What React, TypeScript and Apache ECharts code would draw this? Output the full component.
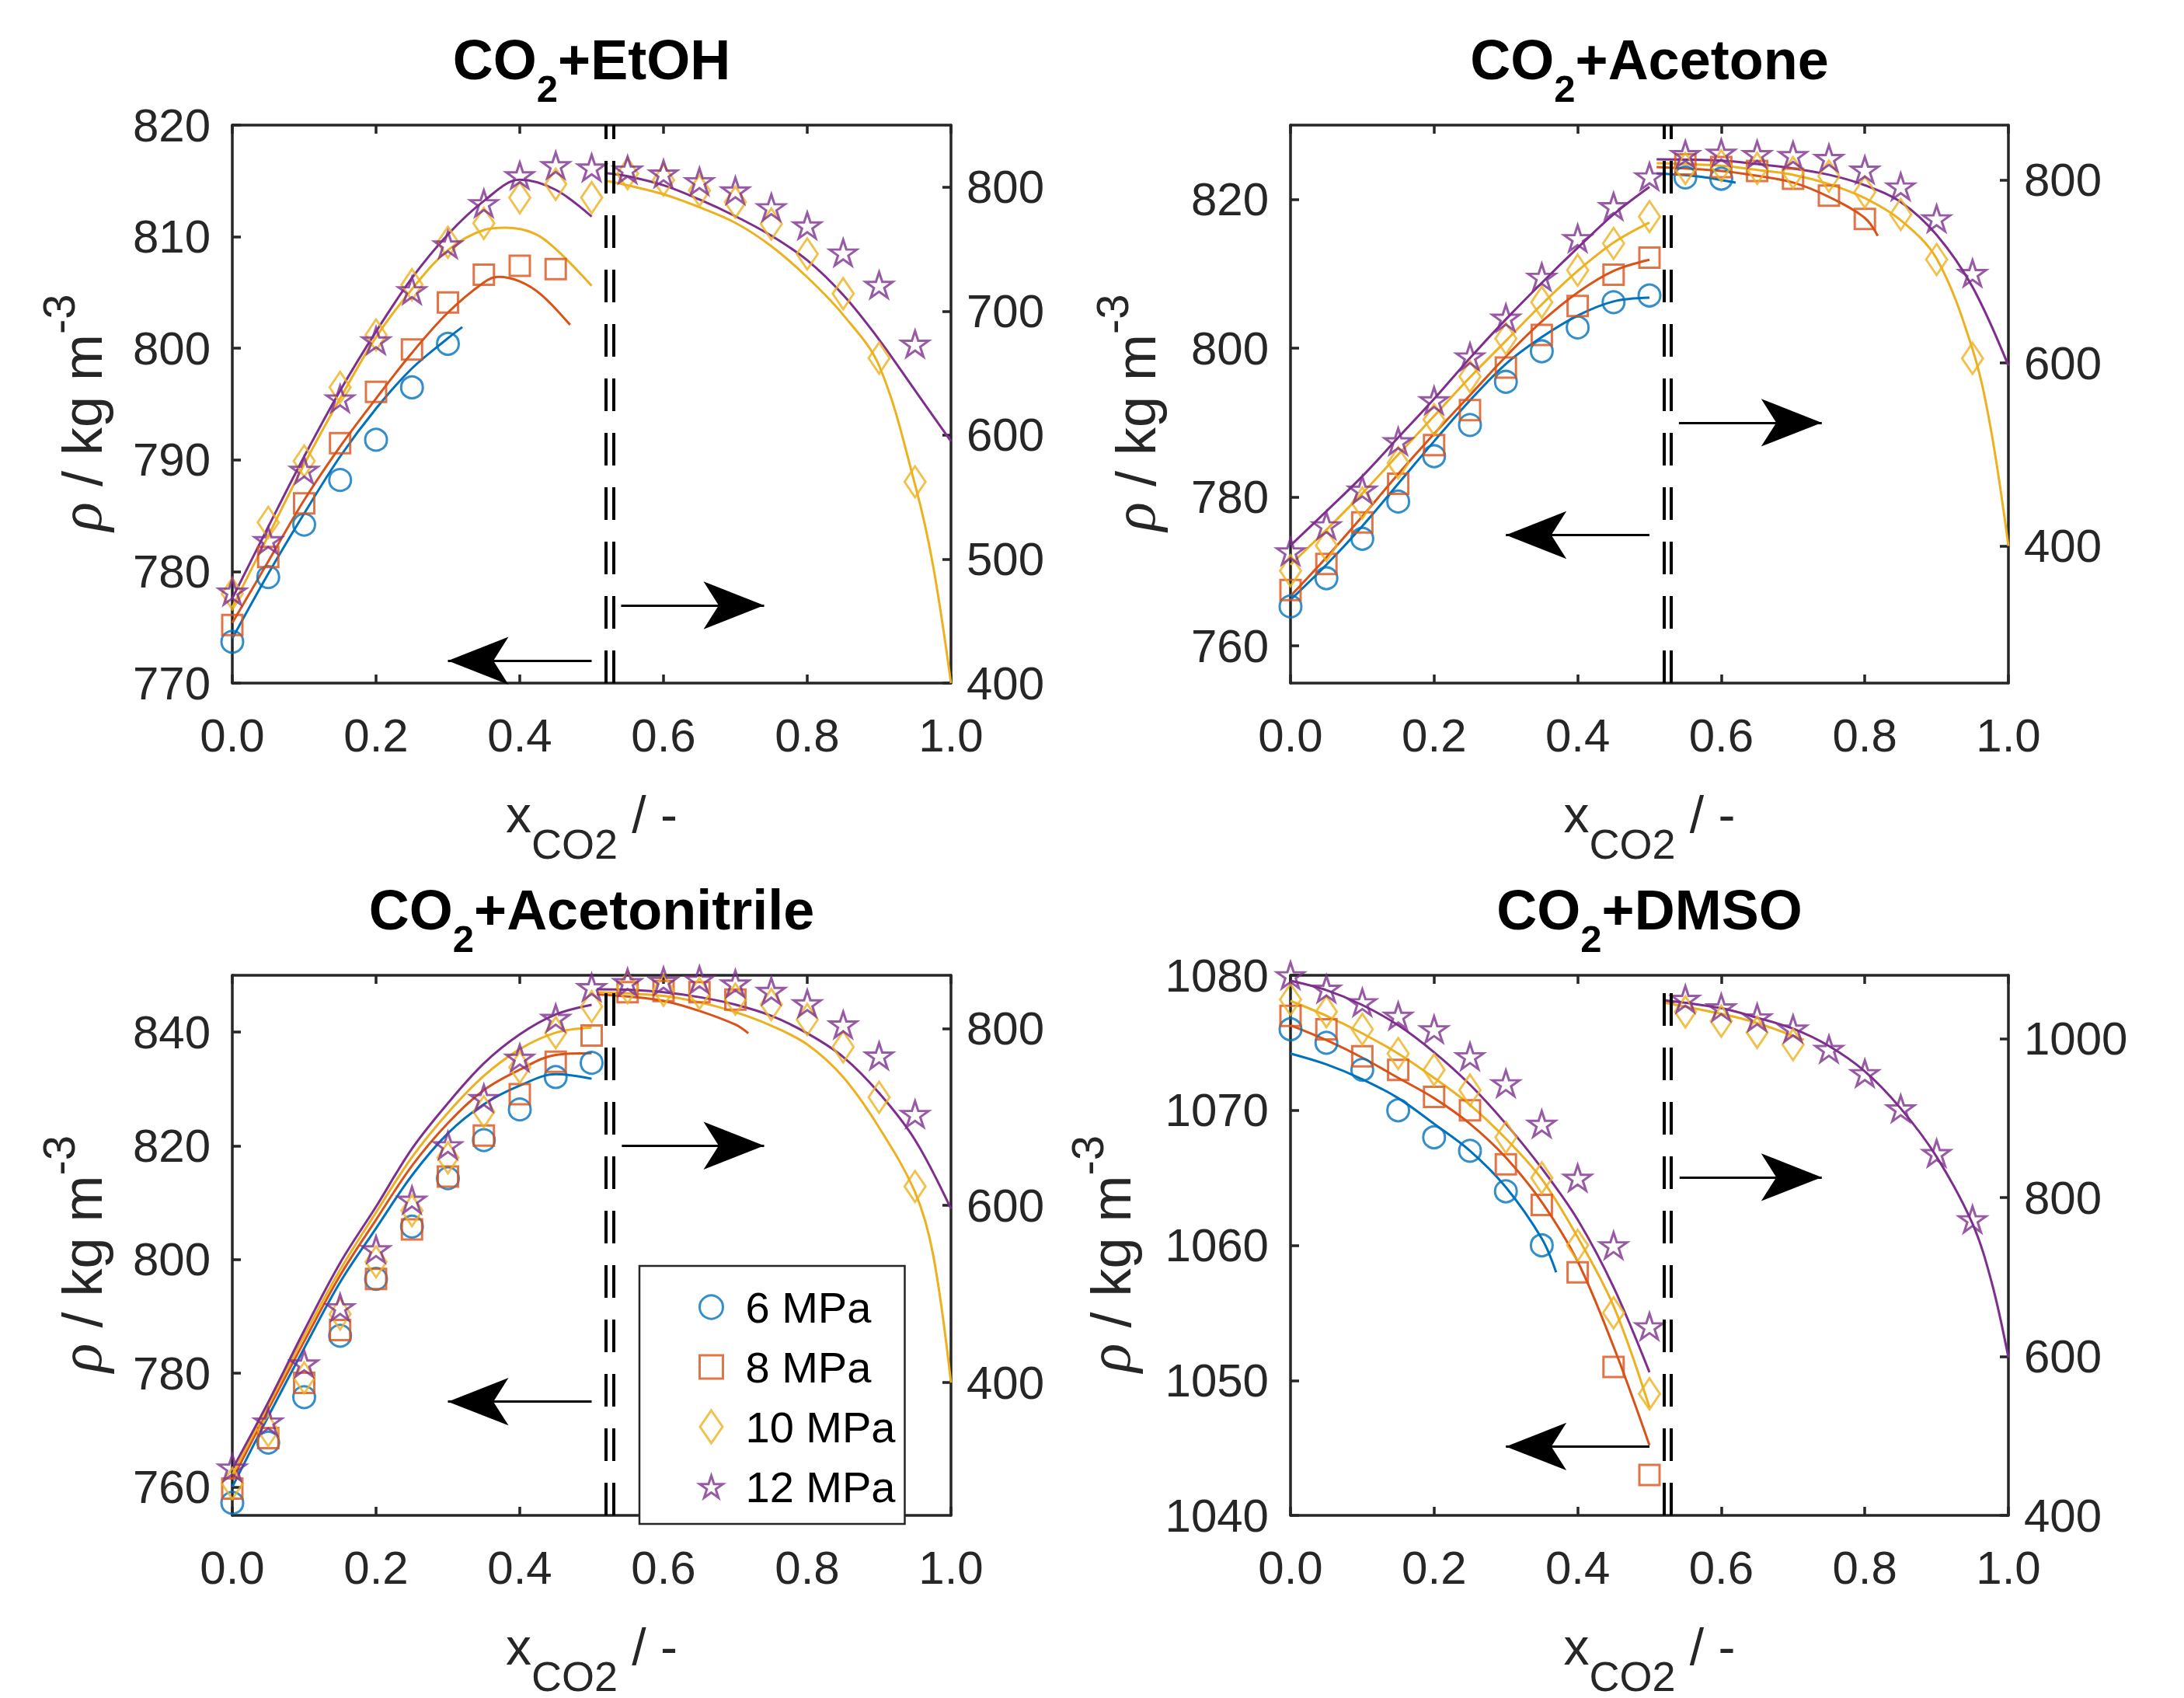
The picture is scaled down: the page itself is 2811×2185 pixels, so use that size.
import React, { useEffect, useRef } from "react";
import * as echarts from "echarts";

// ---------------- shared categories ----------------
const PRESSURES = ["6 MPa", "8 MPa", "10 MPa", "12 MPa"];
const COLORS = ["#0072BD", "#D95319", "#EDB120", "#7E2F8E"];
const X_LEFT = [0, 0.05, 0.1, 0.15, 0.2, 0.25, 0.3, 0.35, 0.4, 0.45, 0.5];
const X_RIGHT = [0.55, 0.6, 0.65, 0.7, 0.75, 0.8, 0.85, 0.9, 0.95];
const DIVIDERS = [0.52, 0.53];

// ---------------- CO2 + EtOH ----------------
const ETOH_6 = [773.7, 779.5, 784.2, 788.2, 791.8, 796.5, 800.4];
const ETOH_8 = [775.2, 781.3, 786.1, 791.5, 796.1, 799.9, 804.1, 806.6, 807.4, 807.1];
const ETOH_10 = [778.0, 784.4, 789.9, 796.5, 801.2, 805.7, 809.5, 811.2, 813.5, 814.7, 813.5];
const ETOH_12 = [778.2, 782.8, 789.1, 795.5, 800.7, 805.2, 809.3, 813.0, 815.5, 816.4, 816.2];
const ETOH_10_R = [810.9, 805.7, 797.3, 787.9, 770.2, 746.1, 714.1, 662.1, 562.3];
const ETOH_12_R = [814.1, 810.9, 804.7, 797.3, 783.7, 769.1, 747.2, 721.1, 673.6];
const ETOH_FIT_6 = [[0, 774.0], [0.05, 779.8], [0.1, 785.2], [0.15, 790.3], [0.2, 794.6], [0.25, 798.2], [0.3, 800.9], [0.32, 801.9]];
const ETOH_FIT_8 = [[0, 775.4], [0.05, 780.9], [0.1, 786.4], [0.15, 791.2], [0.2, 795.5], [0.25, 799.6], [0.3, 803.2], [0.35, 805.9], [0.37, 806.4], [0.4, 806.0], [0.43, 804.8], [0.47, 802.1]];
const ETOH_FIT_10 = [[0, 776.8], [0.05, 783.2], [0.1, 789.6], [0.15, 795.5], [0.2, 801.0], [0.25, 805.3], [0.3, 808.8], [0.35, 810.6], [0.38, 810.8], [0.42, 810.3], [0.45, 808.9], [0.5, 805.6]];
const ETOH_FIT_12 = [[0, 777.6], [0.05, 784.0], [0.1, 790.3], [0.15, 796.2], [0.2, 801.5], [0.25, 806.3], [0.3, 810.2], [0.35, 813.2], [0.4, 815.1], [0.45, 814.2], [0.5, 811.8]];
const ETOH_FIT_10_R = [[0.52, 805.0], [0.55, 801.5], [0.6, 794.2], [0.65, 783.8], [0.7, 771.2], [0.75, 752.4], [0.8, 727.3], [0.85, 697.0], [0.9, 656.0], [0.95, 560.0], [0.975, 495.0], [1.0, 400.0]];
const ETOH_FIT_12_R = [[0.52, 811.3], [0.55, 808.8], [0.6, 801.5], [0.65, 790.0], [0.7, 776.5], [0.75, 760.8], [0.8, 741.0], [0.85, 713.0], [0.9, 677.0], [0.95, 636.0], [1.0, 595.0]];
const ETOH_ARROW_L = [[0.5, 772.0], [0.3, 772.0]];
const ETOH_ARROW_R = [[0.541, 462.7], [0.74, 462.7]];
const ETOH_TICKS_L = [770, 780, 790, 800, 810, 820];
const ETOH_TICKS_R = [400, 500, 600, 700, 800];

// ---------------- CO2 + Acetone ----------------
const ACET_6 = [765.3, 769.1, 774.4, 779.4, 785.5, 789.7, 795.5, 799.6, 802.8, 806.2, 807.1];
const ACET_8 = [767.5, 771.0, 776.6, 781.8, 787.0, 791.7, 797.4, 801.8, 805.7, 809.9, 812.2];
const ACET_10 = [770.1, 773.5, 779.2, 784.6, 790.4, 796.2, 801.3, 806.2, 810.5, 814.1, 817.7];
const ACET_12 = [772.7, 776.2, 781.0, 787.5, 793.0, 798.9, 804.1, 809.6, 814.8, 819.1, 823.1];
const ACET_6_R = [802.8, 801.4];
const ACET_8_R = [817.0, 814.1, 809.9, 801.4, 783.0, 757.5];
const ACET_10_R = [812.7, 815.6, 812.7, 808.0, 804.2, 786.7, 762.3, 713.0, 605.0];
const ACET_12_R = [828.3, 829.7, 828.3, 827.1, 824.0, 811.3, 792.9, 758.0, 698.3];
const ACET_FIT_6 = [[0, 766.2], [0.05, 770.9], [0.1, 776.1], [0.15, 781.8], [0.2, 787.5], [0.25, 793.0], [0.3, 797.9], [0.35, 801.5], [0.4, 804.4], [0.45, 806.3], [0.5, 806.8]];
const ACET_FIT_8 = [[0, 766.7], [0.05, 771.9], [0.1, 777.4], [0.15, 783.1], [0.2, 788.5], [0.25, 793.7], [0.3, 798.9], [0.35, 803.6], [0.4, 807.5], [0.45, 810.4], [0.5, 811.9]];
const ACET_FIT_10 = [[0, 770.9], [0.05, 775.6], [0.1, 780.5], [0.15, 785.7], [0.2, 790.9], [0.25, 796.1], [0.3, 801.0], [0.35, 805.9], [0.4, 810.4], [0.45, 814.2], [0.5, 816.9]];
const ACET_FIT_12 = [[0, 773.5], [0.05, 778.1], [0.1, 782.8], [0.15, 788.0], [0.2, 793.2], [0.25, 798.7], [0.3, 803.9], [0.35, 808.8], [0.4, 813.5], [0.45, 818.0], [0.5, 821.7]];
const ACET_FIT_6_R = [[0.51, 807.1], [0.565, 804.2], [0.62, 797.2]];
const ACET_FIT_8_R = [[0.51, 814.1], [0.6, 809.9], [0.65, 804.5], [0.7, 797.2], [0.75, 781.5], [0.8, 758.5], [0.818, 739.0]];
const ACET_FIT_10_R = [[0.51, 818.4], [0.6, 815.6], [0.65, 811.0], [0.7, 805.7], [0.75, 795.6], [0.8, 780.2], [0.85, 756.0], [0.9, 714.0], [0.95, 615.0], [0.975, 530.0], [1.0, 400.0]];
const ACET_FIT_12_R = [[0.51, 822.6], [0.6, 821.2], [0.65, 817.5], [0.7, 812.7], [0.75, 805.7], [0.8, 794.3], [0.85, 775.9], [0.9, 740.0], [0.95, 683.0], [1.0, 597.0]];
const ACET_ARROW_L = [[0.5, 774.9], [0.3, 774.9]];
const ACET_ARROW_R = [[0.541, 534.7], [0.74, 534.7]];
const ACET_TICKS_L = [760, 780, 800, 820];
const ACET_TICKS_R = [400, 600, 800];

// ---------------- CO2 + Acetonitrile ----------------
const ACN_6 = [757.2, 767.8, 775.8, 786.6, 796.6, 805.8, 814.3, 821.0, 826.4, 832.1, 834.6];
const ACN_8 = [759.7, 768.6, 778.3, 787.6, 796.6, 805.3, 814.6, 821.8, 829.1, 834.8, 839.4];
const ACN_10 = [760.6, 769.9, 779.2, 790.4, 799.6, 808.6, 817.9, 826.0, 833.8, 839.9, 844.5];
const ACN_12 = [763.4, 771.5, 781.7, 791.6, 801.8, 810.5, 820.1, 828.4, 835.5, 842.5, 847.9];
const ACN_8_R = [840.9, 842.3, 840.9, 832.5];
const ACN_10_R = [846.0, 843.0, 839.5, 833.0, 827.0, 810.0, 779.0, 722.2, 621.5];
const ACN_12_R = [852.2, 853.6, 855.0, 850.7, 842.3, 828.3, 804.3, 769.2, 703.3];
const ACN_FIT_6 = [[0, 760.0], [0.05, 772.4], [0.1, 784.4], [0.15, 796.0], [0.2, 805.5], [0.25, 814.8], [0.3, 822.2], [0.35, 827.3], [0.4, 830.6], [0.45, 832.6], [0.5, 831.8]];
const ACN_FIT_8 = [[0, 761.3], [0.05, 773.6], [0.1, 785.6], [0.15, 797.2], [0.2, 807.0], [0.25, 816.5], [0.3, 824.0], [0.35, 829.8], [0.4, 833.4], [0.45, 836.0], [0.5, 836.3]];
const ACN_FIT_10 = [[0, 762.2], [0.05, 774.3], [0.1, 786.6], [0.15, 798.2], [0.2, 808.3], [0.25, 818.0], [0.3, 825.8], [0.35, 832.3], [0.4, 837.0], [0.45, 839.9], [0.5, 840.8]];
const ACN_FIT_12 = [[0, 763.1], [0.05, 774.9], [0.1, 787.5], [0.15, 799.4], [0.2, 809.3], [0.25, 819.5], [0.3, 827.5], [0.35, 834.5], [0.4, 839.6], [0.45, 843.1], [0.5, 844.8]];
const ACN_FIT_8_R = [[0.507, 838.5], [0.55, 836.0], [0.6, 831.1], [0.65, 819.8], [0.7, 804.3], [0.718, 794.5]];
const ACN_FIT_10_R = [[0.507, 840.9], [0.55, 839.5], [0.6, 836.7], [0.65, 829.6], [0.7, 818.4], [0.75, 803.0], [0.8, 781.9], [0.85, 745.0], [0.9, 688.0], [0.95, 615.0], [0.975, 545.0], [1.0, 400.0]];
const ACN_FIT_12_R = [[0.507, 844.3], [0.55, 843.7], [0.6, 840.9], [0.65, 835.3], [0.7, 826.9], [0.75, 814.2], [0.8, 794.5], [0.85, 767.8], [0.9, 727.0], [0.95, 674.0], [1.0, 596.3]];
const ACN_ARROW_L = [[0.5, 775.0], [0.3, 775.0]];
const ACN_ARROW_R = [[0.542, 667.6], [0.74, 667.6]];
const ACN_TICKS_L = [760, 780, 800, 820, 840];
const ACN_TICKS_R = [400, 600, 800];

// ---------------- CO2 + DMSO ----------------
const DMSO_6 = [1076, 1075, 1073, 1070, 1068, 1067, 1064, 1060];
const DMSO_8 = [1077, 1076, 1074, 1073, 1071, 1070, 1066, 1063, 1058, 1051, 1043];
const DMSO_10 = [1078.2, 1077.3, 1076, 1074.2, 1073, 1071.5, 1068, 1065, 1060, 1055, 1049];
const DMSO_12 = [1080, 1079, 1078, 1077, 1076, 1074, 1072, 1069, 1065, 1060, 1054];
const DMSO_10_R = [1033.9, 1022.2, 1008.2, 992.7];
const DMSO_12_R = [1050.2, 1039.5, 1026.9, 1012.8, 987.1, 956.7, 912.3, 856.1, 772.8];
const DMSO_FIT_6 = [[0, 1074.2], [0.05, 1073.4], [0.1, 1072.3], [0.15, 1070.9], [0.2, 1069.0], [0.25, 1067.0], [0.3, 1064.3], [0.35, 1060.5], [0.37, 1058.0]];
const DMSO_FIT_8 = [[0, 1076.3], [0.05, 1075.2], [0.1, 1073.9], [0.15, 1072.4], [0.2, 1070.9], [0.25, 1069.0], [0.3, 1066.5], [0.35, 1063.2], [0.4, 1058.8], [0.45, 1052.5], [0.5, 1045.2]];
const DMSO_FIT_10 = [[0, 1078.1], [0.05, 1077.0], [0.1, 1075.7], [0.15, 1074.2], [0.2, 1072.4], [0.25, 1070.4], [0.3, 1067.9], [0.35, 1064.9], [0.4, 1060.6], [0.45, 1055.5], [0.5, 1048.0]];
const DMSO_FIT_12 = [[0, 1079.6], [0.05, 1078.9], [0.1, 1077.8], [0.15, 1076.3], [0.2, 1074.3], [0.25, 1071.9], [0.3, 1069.0], [0.35, 1065.7], [0.4, 1061.9], [0.45, 1056.9], [0.5, 1050.6]];
const DMSO_FIT_8_R = [[0.52, 1047.0], [0.535, 1045.4]];
const DMSO_FIT_10_R = [[0.52, 1045.6], [0.6, 1031.5], [0.65, 1019.8], [0.715, 998.8]];
const DMSO_FIT_12_R = [[0.52, 1048.8], [0.6, 1038.6], [0.65, 1026.5], [0.7, 1012.8], [0.75, 990.9], [0.8, 959.0], [0.85, 912.3], [0.9, 851.4], [0.95, 767.2], [0.977, 692.3], [1.0, 598.8]];
const DMSO_ARROW_L = [[0.5, 1045.1], [0.3, 1045.1]];
const DMSO_ARROW_R = [[0.542, 825.7], [0.74, 825.7]];
const DMSO_TICKS_L = [1040, 1050, 1060, 1070, 1080];
const DMSO_TICKS_R = [400, 600, 800, 1000];

const X_TICKS_INTERVAL = 0.2;

// ---------------- styling ----------------
const FONT = "'Liberation Sans', Arial, Helvetica, sans-serif";
const AX = "#262626";
const STAR =
  "path://M100,0L122.45,69.1L195.1,69.1L136.3,111.8L158.8,180.9L100,138.2L41.2,180.9L63.7,111.8L4.9,69.1L77.55,69.1Z";
const MARKERS: any[] = [
  { symbol: "circle", size: 28 },
  { symbol: "rect", size: 26 },
  { symbol: "diamond", size: [27, 40] },
  { symbol: STAR, size: [35, 33] },
];
const LEGEND_ICONS = [
  "circle",
  "path://M0,0L10,0L10,10L0,10Z",
  "path://M14.5,0L29,21L14.5,42L0,21Z",
  STAR,
];
const ARROW_HEAD = [46, 78];

const PANELS: any[] = [
  {
    title: "{a|CO}{s|2}{a|+EtOH}",
    grid: { left: 299, top: 161, width: 925, height: 718 },
    titleTop: 41,
    yL: { min: 770, max: 820, ticks: ETOH_TICKS_L },
    yR: { min: 400, max: 850, ticks: ETOH_TICKS_R },
    yNameGap: 157,
    ptsL: [ETOH_6, ETOH_8, ETOH_10, ETOH_12],
    ptsR: [null, null, ETOH_10_R, ETOH_12_R],
    fitL: [ETOH_FIT_6, ETOH_FIT_8, ETOH_FIT_10, ETOH_FIT_12],
    fitR: [null, null, ETOH_FIT_10_R, ETOH_FIT_12_R],
    arrowL: ETOH_ARROW_L,
    arrowR: ETOH_ARROW_R,
  },
  {
    title: "{a|CO}{s|2}{a|+Acetone}",
    grid: { left: 1661, top: 161, width: 924, height: 718 },
    titleTop: 41,
    yL: { min: 755, max: 830, ticks: ACET_TICKS_L },
    yR: { min: 250, max: 860, ticks: ACET_TICKS_R },
    yNameGap: 163,
    ptsL: [ACET_6, ACET_8, ACET_10, ACET_12],
    ptsR: [ACET_6_R, ACET_8_R, ACET_10_R, ACET_12_R],
    fitL: [ACET_FIT_6, ACET_FIT_8, ACET_FIT_10, ACET_FIT_12],
    fitR: [ACET_FIT_6_R, ACET_FIT_8_R, ACET_FIT_10_R, ACET_FIT_12_R],
    arrowL: ACET_ARROW_L,
    arrowR: ACET_ARROW_R,
  },
  {
    title: "{a|CO}{s|2}{a|+Acetonitrile}",
    grid: { left: 299, top: 1255, width: 925, height: 723 },
    titleTop: 1135,
    yL: { min: 755, max: 850, ticks: ACN_TICKS_L },
    yR: { min: 250, max: 860, ticks: ACN_TICKS_R },
    yNameGap: 157,
    ptsL: [ACN_6, ACN_8, ACN_10, ACN_12],
    ptsR: [null, ACN_8_R, ACN_10_R, ACN_12_R],
    fitL: [ACN_FIT_6, ACN_FIT_8, ACN_FIT_10, ACN_FIT_12],
    fitR: [null, ACN_FIT_8_R, ACN_FIT_10_R, ACN_FIT_12_R],
    arrowL: ACN_ARROW_L,
    arrowR: ACN_ARROW_R,
    legend: true,
  },
  {
    title: "{a|CO}{s|2}{a|+DMSO}",
    grid: { left: 1661, top: 1255, width: 924, height: 723 },
    titleTop: 1135,
    yL: { min: 1040, max: 1080, ticks: DMSO_TICKS_L },
    yR: { min: 400, max: 1080, ticks: DMSO_TICKS_R },
    yNameGap: 195,
    ptsL: [DMSO_6, DMSO_8, DMSO_10, DMSO_12],
    ptsR: [null, null, DMSO_10_R, DMSO_12_R],
    fitL: [DMSO_FIT_6, DMSO_FIT_8, DMSO_FIT_10, DMSO_FIT_12],
    fitR: [null, DMSO_FIT_8_R, DMSO_FIT_10_R, DMSO_FIT_12_R],
    arrowL: DMSO_ARROW_L,
    arrowR: DMSO_ARROW_R,
  },
];

const axisLineStyle = { color: AX, width: 3.5 };
const labelBase = { fontFamily: FONT, fontSize: 60, color: AX };
const plainNumber = (v: number) => String(v);

function arrowItem(arrow: number[][]) {
  return [
    { coord: arrow[0], lineStyle: { color: "#000", width: 3, type: "solid" } },
    { coord: arrow[1], symbol: "arrow", symbolSize: ARROW_HEAD },
  ];
}

function buildOption() {
  const grid: any[] = [];
  const xAxis: any[] = [];
  const yAxis: any[] = [];
  const title: any[] = [];
  const series: any[] = [];

  PANELS.forEach((P, i) => {
    grid.push({ ...P.grid, containLabel: false, show: false });
    title.push({
      text: P.title,
      left: P.grid.left + P.grid.width / 2,
      top: P.titleTop,
      textAlign: "center",
      textVerticalAlign: "top",
      padding: 0,
      textStyle: {
        rich: {
          a: { fontFamily: FONT, fontWeight: "bold", fontSize: 72, lineHeight: 72, color: "#000", verticalAlign: "top" },
          s: { fontFamily: FONT, fontWeight: "bold", fontSize: 49, lineHeight: 49, color: "#000", padding: [48, 0, 0, 0], verticalAlign: "top" },
        },
      },
    });
    const xCommon = {
      type: "value",
      gridIndex: i,
      min: 0,
      max: 1,
      interval: X_TICKS_INTERVAL,
      splitLine: { show: false },
      axisLine: { show: true, onZero: false, lineStyle: axisLineStyle },
      axisTick: { show: true, inside: true, length: 11, lineStyle: axisLineStyle },
    };
    xAxis.push({
      ...xCommon,
      position: "bottom",
      axisLabel: { ...labelBase, margin: 37, formatter: (v: number) => v.toFixed(1) },
      name: "{n|x}{s|CO2}{n| / -}",
      nameLocation: "middle",
      nameGap: 136,
      nameTextStyle: {
        rich: {
          n: { fontFamily: FONT, fontSize: 66, lineHeight: 64, color: AX, verticalAlign: "top" },
          s: { fontFamily: FONT, fontSize: 54, lineHeight: 54, color: AX, padding: [44, 0, 0, 0], verticalAlign: "top" },
        },
      },
    });
    xAxis.push({ ...xCommon, position: "top", axisLabel: { show: false } });
    yAxis.push({
      type: "value",
      gridIndex: i,
      position: "left",
      min: P.yL.min,
      max: P.yL.max,
      splitLine: { show: false },
      axisLine: { show: true, onZero: false, lineStyle: axisLineStyle },
      axisTick: { show: true, inside: true, length: 11, lineStyle: axisLineStyle, customValues: P.yL.ticks },
      axisLabel: { ...labelBase, margin: 28, customValues: P.yL.ticks, formatter: plainNumber },
      name: "{r|ρ}{n| / kg m}{p|-3}",
      nameLocation: "middle",
      nameRotate: 90,
      nameGap: P.yNameGap,
      nameTextStyle: {
        rich: {
          r: { fontFamily: "'Liberation Serif', serif", fontStyle: "italic", fontSize: 78, lineHeight: 72, color: AX, verticalAlign: "bottom" },
          n: { fontFamily: FONT, fontSize: 72, lineHeight: 72, color: AX, verticalAlign: "bottom" },
          p: { fontFamily: FONT, fontSize: 58, lineHeight: 58, color: AX, padding: [0, 22, 38, 0], verticalAlign: "bottom" },
        },
      },
    });
    yAxis.push({
      type: "value",
      gridIndex: i,
      position: "right",
      min: P.yR.min,
      max: P.yR.max,
      splitLine: { show: false },
      axisLine: { show: true, onZero: false, lineStyle: axisLineStyle },
      axisTick: { show: true, inside: true, length: 11, lineStyle: axisLineStyle, customValues: P.yR.ticks },
      axisLabel: { ...labelBase, margin: 20, customValues: P.yR.ticks, formatter: plainNumber },
    });

    const xi = 2 * i;
    const yl = 2 * i;
    const yr = 2 * i + 1;

    const fitSeries = (data: number[][], k: number, yIdx: number, side: string, extra: any = {}) => ({
      type: "line",
      name: `fit ${i} ${side} ${PRESSURES[k]}`,
      xAxisIndex: xi,
      yAxisIndex: yIdx,
      data,
      smooth: 0.35,
      showSymbol: false,
      symbol: "none",
      silent: true,
      lineStyle: { color: COLORS[k], width: 3 },
      itemStyle: { color: COLORS[k] },
      z: 2,
      ...extra,
    });

    const markLineBase = {
      silent: true,
      symbol: ["none", "none"],
      label: { show: false },
      emphasis: { disabled: true },
      animation: false,
    };

    for (let k = 0; k < 4; k++) {
      const extraL: any = {};
      if (k === 3) {
        extraL.markLine = {
          ...markLineBase,
          data: [
            ...DIVIDERS.map((x) => ({ xAxis: x, lineStyle: { color: "#000", width: 4, type: [42, 28] } })),
            arrowItem(P.arrowL),
          ],
        };
      }
      series.push(fitSeries(P.fitL[k], k, yl, "L", extraL));
      if (P.fitR[k]) {
        const extraR: any = {};
        if (k === 3) {
          extraR.markLine = { ...markLineBase, data: [arrowItem(P.arrowR)] };
        }
        series.push(fitSeries(P.fitR[k], k, yr, "R", extraR));
      }
    }

    const scatterSeries = (vals: number[], xs: number[], k: number, yIdx: number, name: string) => ({
      type: "scatter",
      name,
      xAxisIndex: xi,
      yAxisIndex: yIdx,
      data: vals.map((v, j) => [xs[j], v]),
      symbol: MARKERS[k].symbol,
      symbolSize: MARKERS[k].size,
      itemStyle: { color: "rgba(0,0,0,0)", borderColor: COLORS[k], borderWidth: 3 },
      emphasis: { disabled: true },
      silent: true,
      z: 3,
    });

    for (let k = 0; k < 4; k++) {
      const nameL = P.legend ? PRESSURES[k] : `pts ${i} L ${PRESSURES[k]}`;
      series.push(scatterSeries(P.ptsL[k], X_LEFT, k, yl, nameL));
      if (P.ptsR[k]) series.push(scatterSeries(P.ptsR[k], X_RIGHT, k, yr, `pts ${i} R ${PRESSURES[k]}`));
    }
  });

  return {
    animation: false,
    backgroundColor: "#ffffff",
    title,
    grid,
    xAxis,
    yAxis,
    legend: {
      left: 823,
      top: 1629,
      orient: "vertical",
      padding: [23, 12, 18, 76],
      itemWidth: 30,
      itemHeight: 42,
      itemGap: 17,
      selectedMode: false,
      symbolKeepAspect: true,
      backgroundColor: "#ffffff",
      borderColor: AX,
      borderWidth: 2.5,
      borderRadius: 0,
      textStyle: { fontFamily: FONT, fontSize: 56, color: "#000", lineHeight: 60, padding: [0, 0, 0, 24] },
      data: PRESSURES.map((name, k) => ({
        name,
        icon: LEGEND_ICONS[k],
        itemStyle: { color: "rgba(0,0,0,0)", borderColor: COLORS[k], borderWidth: 3 },
      })),
    },
    series,
  };
}

export default function App() {
  const ref = useRef<HTMLDivElement>(null);
  useEffect(() => {
    if (!ref.current) return;
    const chart = echarts.init(ref.current, undefined, { renderer: "svg" });
    chart.setOption(buildOption() as any);
    return () => chart.dispose();
  }, []);
  return (
    <div
      ref={ref}
      style={{ position: "absolute", left: 0, top: 0, width: 2811, height: 2185, background: "#fff" }}
    />
  );
}
